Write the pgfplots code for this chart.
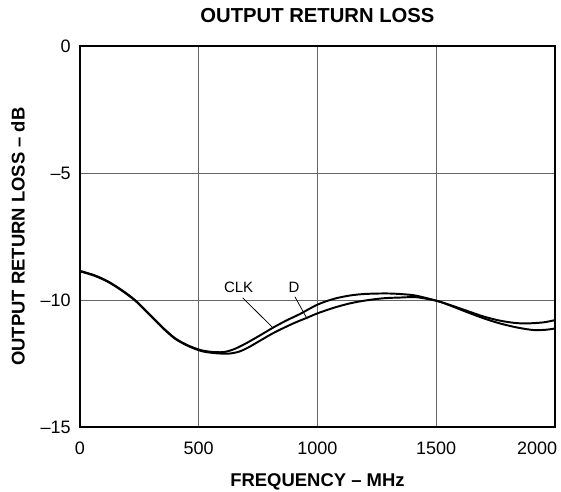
\documentclass[border=0pt]{standalone}
\usepackage{fontspec}
\setmainfont{Liberation Sans}
\usepackage{pgfplots}
\usepackage{pgfplotstable}
\pgfplotsset{compat=1.18}

\pgfplotstableread{
f db
0 -8.85
63 -9.03
119 -9.27
175 -9.60
232 -10.00
288 -10.51
344 -11.04
400 -11.50
456 -11.79
512 -11.98
568 -12.05
610 -12.04
650 -11.93
700 -11.70
760 -11.38
814 -11.08
870 -10.80
926 -10.55
1000 -10.18
1070 -9.95
1137 -9.82
1200 -9.76
1291 -9.74
1360 -9.77
1417 -9.83
1502 -10.03
1560 -10.20
1628 -10.42
1700 -10.65
1768 -10.81
1830 -10.90
1881 -10.92
1950 -10.88
2000 -10.79
}\clkdata

\pgfplotstableread{
f db
0 -8.87
63 -9.05
119 -9.29
175 -9.62
232 -10.02
288 -10.53
344 -11.06
400 -11.52
456 -11.81
512 -12.01
568 -12.09
625 -12.11
670 -12.03
710 -11.86
758 -11.60
820 -11.27
898 -10.92
950 -10.72
1001 -10.52
1070 -10.30
1137 -10.13
1200 -10.02
1277 -9.93
1350 -9.90
1417 -9.89
1502 -10.03
1560 -10.22
1628 -10.47
1700 -10.72
1768 -10.92
1840 -11.08
1909 -11.18
1960 -11.17
2000 -11.12
}\ddata

\begin{document}
\begin{tikzpicture}
\useasboundingbox (-53.3pt,-42.7pt) rectangle (320.7pt,284.7pt);
\begin{axis}[
  at={(0pt,0pt)}, anchor=south west,
  scale only axis, width=316.7pt, height=254pt,
  xmin=0, xmax=2000, ymin=-15, ymax=0,
  xtick={0,500,1000,1500,2000},
  xticklabels={0,500,1000,1500,\makebox[0pt][r]{2000}\hspace*{-3pt}},
  ytick={0,-5,-10,-15},
  yticklabels={0,–5,–10,–15},
  /pgf/number format/assume math mode=true,
  major tick length=0pt,
  grid=major,
  major grid style={black!60, line width=0.6pt},
  axis line style={line width=1.8pt},
  tick label style={font=\fontsize{12}{14}\selectfont},
  xticklabel style={anchor=center, yshift=-14pt},
  yticklabel style={anchor=east, xshift=-2.7pt},
  title={OUTPUT RETURN LOSS},
  every axis title/.style={at={(axis description cs:0.5,1)}, anchor=center, yshift=20.5pt, font=\fontsize{13.5}{16}\selectfont\bfseries},
  xlabel={FREQUENCY – MHz},
  ylabel={OUTPUT RETURN LOSS – dB},
  every axis x label/.style={at={(axis description cs:0.5,0)}, anchor=center, yshift=-36.7pt, font=\fontsize{12.3}{14}\selectfont\bfseries},
  every axis y label/.style={at={(axis description cs:0,0.5)}, anchor=center, rotate=90, yshift=41.3pt, font=\fontsize{12.3}{14}\selectfont\bfseries},
]
\addplot[black, line width=1.3pt, smooth] table[x=f, y=db] {\clkdata};
\addplot[black, line width=1.3pt, smooth] table[x=f, y=db] {\ddata};
\draw[black, line width=0.5pt] (axis cs:685,-9.91) -- (axis cs:811,-11.08);
\draw[black, line width=0.5pt] (axis cs:905,-9.87) -- (axis cs:957,-10.75);
\node[font=\fontsize{10}{12}\selectfont] at (axis cs:668,-9.51) {CLK};
\node[font=\fontsize{10}{12}\selectfont] at (axis cs:901,-9.51) {D};
\end{axis}
\end{tikzpicture}
\end{document}
